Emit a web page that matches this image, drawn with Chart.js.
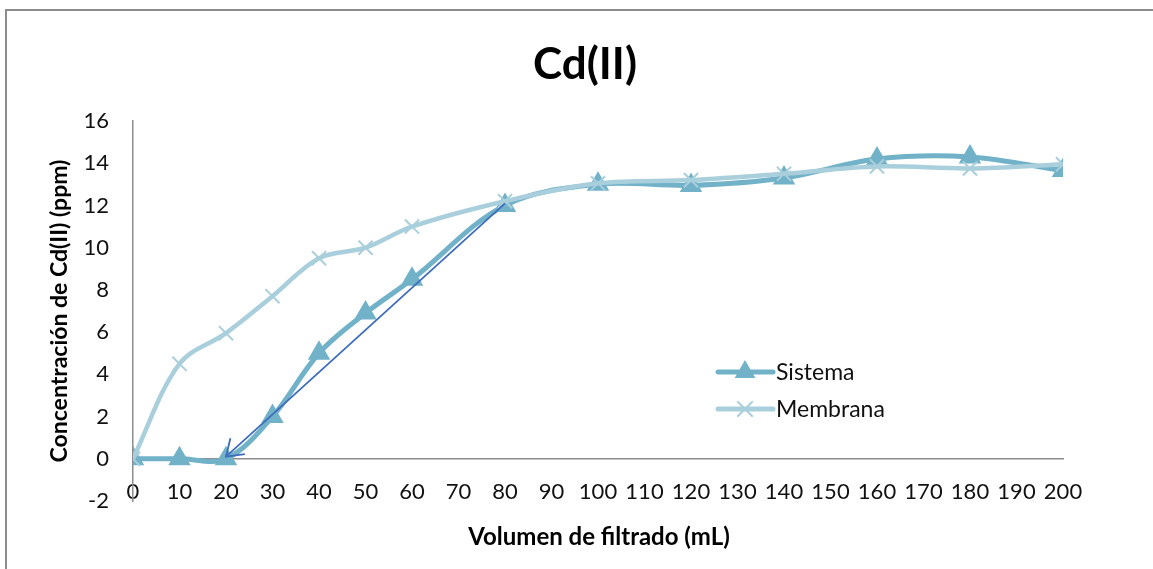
<!DOCTYPE html>
<html>
<head>
<meta charset="utf-8">
<script src="https://cdn.jsdelivr.net/npm/chart.js@4.4.1/dist/chart.umd.min.js"></script>
<style>
  body { margin: 0; background: #fff; }
  #wrap { position: relative; width: 1153px; height: 569px; }
  #frame { position: absolute; left: 5px; top: 9px; right: 0; bottom: 0;
           border-left: 2px solid #8c8c8c; border-top: 2px solid #8c8c8c; }
  canvas { position: absolute; left: 0; top: 0; }
</style>
</head>
<body>
<div id="wrap">
  <div id="frame"></div>
  <canvas id="cdChart" width="1153" height="569"></canvas>
</div>
<script>
// Cd(II) breakthrough data
const volumes  = [0, 10, 20, 30, 40, 50, 60, 80, 100, 120, 140, 160, 180, 200];
const sistema  = [0, 0, 0, 2.0, 5.0, 6.9, 8.5, 12.0, 13.0, 12.95, 13.3, 14.2, 14.3, 13.65];
const membrana = [0, 4.5, 5.95, 7.7, 9.5, 10.0, 11.0, 12.2, 13.05, 13.2, 13.5, 13.85, 13.75, 13.95];
// hand drawn arrow (from -> to)
const arrowX = [80, 20];
const arrowY = [12.1, 0.1];
const yTicks = [-2, 0, 2, 4, 6, 8, 10, 12, 14, 16];

const colSistema = '#72b2c9';
const colMembrana = '#a9cfdc';
const colArrow = '#3d6cbc';
const FONT = 'Lato, "Open Sans", sans-serif';

const toPts = (xs, ys) => xs.map((x, i) => ({ x: x, y: ys[i] }));

Chart.defaults.font.family = FONT;
Chart.defaults.color = '#111';

// arrow head, custom legend and titles
const extras = {
  id: 'extras',
  afterDatasetsDraw(chart) {
    const ctx = chart.ctx;
    const xs = chart.scales.x, ys = chart.scales.y;
    // arrow head at the end of the arrow dataset
    const x0 = xs.getPixelForValue(arrowX[0]), y0 = ys.getPixelForValue(arrowY[0]);
    const x1 = xs.getPixelForValue(arrowX[1]), y1 = ys.getPixelForValue(arrowY[1]);
    const ang = Math.atan2(y1 - y0, x1 - x0);
    const len = 19, spread = 0.6;
    ctx.save();
    ctx.strokeStyle = colArrow;
    ctx.lineWidth = 1.8;
    ctx.beginPath();
    ctx.moveTo(x1 - len * Math.cos(ang - spread), y1 - len * Math.sin(ang - spread));
    ctx.lineTo(x1, y1);
    ctx.lineTo(x1 - len * Math.cos(ang + spread), y1 - len * Math.sin(ang + spread));
    ctx.stroke();
    ctx.restore();
  },
  afterDraw(chart) {
    const ctx = chart.ctx;
    const area = chart.chartArea;
    ctx.save();
    // main title
    ctx.fillStyle = '#000';
    ctx.textAlign = 'center';
    ctx.textBaseline = 'middle';
    ctx.font = 'bold 44px ' + FONT;
    ctx.fillText('Cd(II)', 585, 65);
    // x axis title
    ctx.font = 'bold 24px ' + FONT;
    ctx.fillText('Volumen de filtrado (mL)', (area.left + area.right) / 2 + 1, 537);

    // legend
    const items = [
      { label: 'Sistema', color: colSistema, style: 'triangle', y: 372, r: 12 },
      { label: 'Membrana', color: colMembrana, style: 'crossRot', y: 409, r: 10 }
    ];
    items.forEach(it => {
      ctx.strokeStyle = it.color;
      ctx.lineWidth = 5;
      ctx.lineCap = 'round';
      ctx.beginPath();
      ctx.moveTo(718, it.y);
      ctx.lineTo(773, it.y);
      ctx.stroke();
      ctx.lineWidth = 2;
      ctx.fillStyle = it.color;
      Chart.helpers.drawPoint(ctx, { pointStyle: it.style, radius: it.r, borderWidth: it.style === 'triangle' ? 0 : 2 }, 745, it.y);
      ctx.fillStyle = '#111';
      ctx.textAlign = 'left';
      ctx.font = '23px ' + FONT;
      ctx.fillText(it.label, 776, it.y + 1);
    });
    ctx.restore();
  }
};

new Chart(document.getElementById('cdChart'), {
  type: 'line',
  data: {
    datasets: [
      {
        label: 'flecha',
        data: toPts(arrowX, arrowY),
        borderColor: colArrow,
        borderWidth: 1.8,
        pointRadius: 0,
        tension: 0,
        order: 0
      },
      {
        label: 'Membrana',
        data: toPts(volumes, membrana),
        borderColor: colMembrana,
        backgroundColor: colMembrana,
        borderWidth: 4.5,
        pointStyle: 'crossRot',
        pointRadius: 10,
        pointBorderWidth: 2,
        tension: 0.35,
        order: 1
      },
      {
        label: 'Sistema',
        data: toPts(volumes, sistema),
        borderColor: colSistema,
        backgroundColor: colSistema,
        borderWidth: 5,
        pointStyle: 'triangle',
        pointRadius: 13,
        pointBorderWidth: 0,
        tension: 0.35,
        order: 2
      }
    ]
  },
  options: {
    responsive: false,
    animation: false,
    layout: { padding: { left: 46, right: 90, top: 121, bottom: 68 } },
    plugins: {
      legend: { display: false },
      tooltip: { enabled: false }
    },
    scales: {
      x: {
        type: 'linear',
        position: { y: 0 },
        min: 0,
        max: 200,
        grid: { display: false, drawTicks: false },
        border: { display: true, color: '#8c8c8c', width: 1.5 },
        ticks: { stepSize: 10, padding: 20, font: { size: 22 }, maxRotation: 0, autoSkip: false }
      },
      y: {
        min: -2,
        max: 16,
        afterFit(scale) { scale.width = 87; },
        afterBuildTicks(scale) { scale.ticks = yTicks.map(v => ({ value: v })); },
        grid: { display: false, drawTicks: false },
        border: { display: true, color: '#8c8c8c', width: 1.5 },
        ticks: { padding: 24, font: { size: 22 } },
        title: {
          display: true,
          text: 'Concentración de Cd(II) (ppm)',
          font: { size: 23, weight: 'bold' },
          color: '#000',
          padding: { top: 0, bottom: 0 }
        }
      }
    }
  },
  plugins: [extras]
});
</script>
</body>
</html>
